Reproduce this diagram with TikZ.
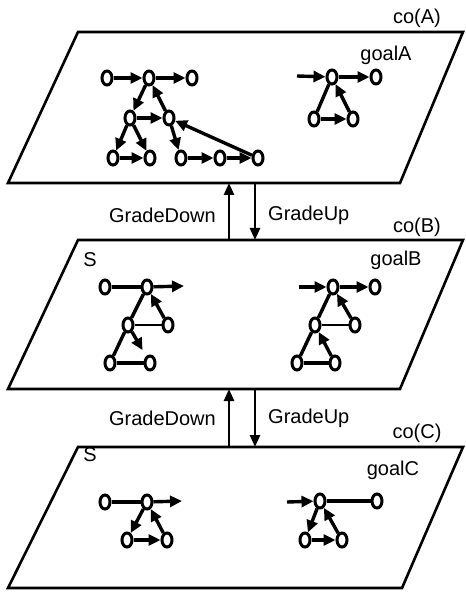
\documentclass[tikz,border=0pt]{standalone}
\usepackage{fontspec}
\setmainfont{Liberation Sans}
\usetikzlibrary{arrows.meta,shapes.geometric}

\begin{document}
\begin{tikzpicture}[x=1pt,y=-1pt,
		st/.style={draw,ellipse,line width=3pt,minimum width=10pt,minimum height=14pt,inner sep=0pt},
		ed/.style={line width=3.4pt},
		ar/.style={ed,-{Triangle[length=12pt,width=11pt]}},
		plane/.style={line width=2.6pt,line join=miter},
		lvl/.style={line width=2.6pt,-{Triangle[length=12pt,width=10pt]}},
		lbl/.style={font=\fontsize{20}{23}\selectfont,inner sep=0pt}]
		\useasboundingbox (0,0) rectangle (465,601);
		% the three planes
		\draw[plane] (78,32) -- (463,32) -- (400,183) -- (8,183) -- cycle;
		\draw[plane] (78,240) -- (463,240) -- (400,389) -- (8,389) -- cycle;
		\draw[plane] (78,447) -- (463,447) -- (402,588) -- (8,588) -- cycle;
		\node[lbl] (coA) at (417,18) {co(A)};
		\node[lbl] (coB) at (417,227) {co(B)};
		\node[lbl] (coC) at (417,433) {co(C)};
		\node[lbl] (goalA) at (386,55) {goalA};
		\node[lbl] (goalB) at (396,260) {goalB};
		\node[lbl] (goalC) at (393,470) {goalC};
		\node[lbl] (sB) at (90,260) {S};
		\node[lbl] (sC) at (90,455) {S};
		% grade changes between planes
		\coordinate (a-l) at (229,183); \coordinate (a-r) at (255,183);
		\coordinate (b-tl) at (229,240); \coordinate (b-tr) at (255,240);
		\coordinate (b-l) at (229,389); \coordinate (b-r) at (255,389);
		\coordinate (c-tl) at (229,447); \coordinate (c-tr) at (255,447);
		\draw[lvl] (b-tl) -- (a-l);
		\draw[lvl] (a-r) -- (b-tr);
		\draw[lvl] (c-tl) -- (b-l);
		\draw[lvl] (b-r) -- (c-tr);
		\node[lbl,anchor=east] (gdAB) at (216,215) {GradeDown};
		\node[lbl,anchor=west] (guAB) at (268,215) {GradeUp};
		\node[lbl,anchor=east] (gdBC) at (216,418) {GradeDown};
		\node[lbl,anchor=west] (guBC) at (268,418) {GradeUp};
		% plane A, left graph
		\node[st] (a1) at (107,78) {};
		\node[st] (a2) at (149,78) {};
		\node[st] (a3) at (192,78) {};
		\node[st] (a4) at (130,118) {};
		\node[st] (a5) at (169,118) {};
		\node[st] (a6) at (113,158) {};
		\node[st] (a7) at (150,158) {};
		\node[st] (a8) at (181,158) {};
		\node[st] (a9) at (220,158) {};
		\node[st] (a10) at (258,158) {};
		\draw[ar] (a1) -- (a2);
		\draw[ar] (a2) -- (a3);
		\draw[ar] (a2) -- (a4);
		\draw[ar] (a5) -- (a2);
		\draw[ar] (a4) -- (a5);
		\draw[ar] (a4) -- (a6);
		\draw[ar] (a4) -- (a7);
		\draw[ar] (a6) -- (a7);
		\draw[ar] (a5) -- (a8);
		\draw[ar] (a8) -- (a9);
		\draw[ar] (a9) -- (a10);
		\draw[ar] (a10) -- (a5);
		% plane A, right graph
		\coordinate (g-in) at (297,76);
		\node[st] (g1) at (332,77) {};
		\node[st] (g2) at (376,77) {};
		\node[st] (g3) at (314,119) {};
		\node[st] (g4) at (353,119) {};
		\draw[ar] (g-in) -- (g1);
		\draw[ar] (g1) -- (g2);
		\draw[ed] (g1) -- (g3);
		\draw[ar] (g3) -- (g4);
		\draw[ar] (g4) -- (g1);
		% plane B, left graph
		\node[st] (b1) at (105,287) {};
		\node[st] (b2) at (147,287) {};
		\node[st] (b3) at (128,325) {};
		\node[st] (b4) at (168,325) {};
		\node[st] (b5) at (110,363) {};
		\node[st] (b6) at (150,363) {};
		\coordinate (b-out) at (184,286);
		\draw[ed] (b1) -- (b2);
		\draw[ar] (b2) -- (b-out);
		\draw[ed] (b2) -- (b3);
		\draw[ar] (b4) -- (b2);
		\draw[ed,line width=2pt] (b3) -- (b4);
		\draw[ed] (b3) -- (b5);
		\draw[ar,shorten >=7pt] (b3) -- (b6);
		\draw[ed] (b5) -- (b6);
		% plane B, right graph
		\coordinate (c-in) at (299,287);
		\node[st] (c1) at (333,287) {};
		\node[st] (c2) at (375,287) {};
		\node[st] (c3) at (315,325) {};
		\node[st] (c4) at (355,325) {};
		\node[st] (c5) at (297,363) {};
		\node[st] (c6) at (335,363) {};
		\draw[ar] (c-in) -- (c1);
		\draw[ar] (c1) -- (c2);
		\draw[ed] (c1) -- (c3);
		\draw[ar] (c4) -- (c1);
		\draw[ed,line width=2pt] (c3) -- (c4);
		\draw[ed] (c3) -- (c5);
		\draw[ar] (c6) -- (c3);
		\draw[ed] (c5) -- (c6);
		% plane C, left graph
		\node[st] (d1) at (105,502) {};
		\node[st] (d2) at (147,502) {};
		\node[st] (d3) at (127,540) {};
		\node[st] (d4) at (167,540) {};
		\coordinate (d-out) at (182,501);
		\draw[ed] (d1) -- (d2);
		\draw[ar] (d2) -- (d-out);
		\draw[ar] (d2) -- (d3);
		\draw[ar] (d3) -- (d4);
		\draw[ar] (d4) -- (d2);
		% plane C, right graph
		\coordinate (e-in) at (287,502);
		\node[st] (e1) at (320,501) {};
		\node[st] (e2) at (377,501) {};
		\node[st] (e3) at (305,540) {};
		\node[st] (e4) at (342,540) {};
		\draw[ar] (e-in) -- (e1);
		\draw[ed] (e1) -- (e2);
		\draw[ar] (e1) -- (e3);
		\draw[ar] (e3) -- (e4);
		\draw[ar] (e4) -- (e1);
\end{tikzpicture}
\end{document}
